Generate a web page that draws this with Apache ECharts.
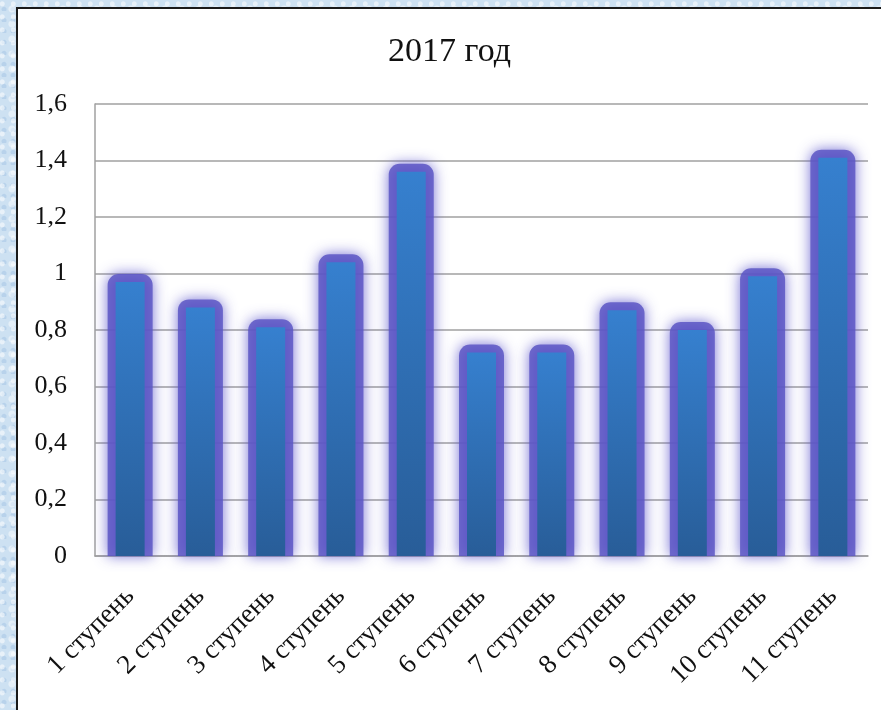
<!DOCTYPE html>
<html>
<head>
<meta charset="utf-8">
<script src="https://cdn.jsdelivr.net/npm/echarts@6/dist/echarts.min.js"></script>
<style>
  html, body { margin: 0; padding: 0; width: 881px; height: 710px; overflow: hidden; }
  body {
    background-color: #cde1f2;
    background-image:
      radial-gradient(circle at 20% 30%, rgba(255,255,255,0.55) 0 2px, transparent 3px),
      radial-gradient(circle at 70% 60%, rgba(255,255,255,0.45) 0 3px, transparent 4px),
      radial-gradient(circle at 45% 85%, rgba(170,200,230,0.6) 0 2px, transparent 3px);
    background-size: 11px 13px, 17px 15px, 9px 11px;
    position: relative;
  }
  #chart {
    position: absolute; left: 16px; top: 7px;
    width: 863px; height: 701px;
    background: #ffffff;
    border-left: 2px solid #1a1a1a;
    border-top: 2px solid #1a1a1a;
  }
</style>
</head>
<body>
<div id="chart"></div>
<script>
const titleText = '2017 год';
const categories = ['1 ступень','2 ступень','3 ступень','4 ступень','5 ступень','6 ступень','7 ступень','8 ступень','9 ступень','10 ступень','11 ступень'];
const values = [0.97, 0.88, 0.81, 1.04, 1.36, 0.72, 0.72, 0.87, 0.80, 0.99, 1.41];
const yMin = 0, yMax = 1.6, yStep = 0.2;

const chart = echarts.init(document.getElementById('chart'), null, { renderer: 'canvas' });
const serif = '"Liberation Serif", "DejaVu Serif", serif';
const coreWidth = 29, glowPad = 8;

chart.setOption({
  backgroundColor: '#ffffff',
  animation: false,
  title: {
    text: titleText, left: 'center', top: 21,
    textStyle: { fontFamily: serif, fontSize: 34, fontWeight: 'normal', color: '#111' }
  },
  grid: { left: 77, right: 13, top: 95, bottom: 154, containLabel: false },
  xAxis: {
    type: 'category', data: categories,
    axisLine: { show: true, lineStyle: { color: '#a0a0a0', width: 1.5 } },
    axisTick: { show: false },
    axisLabel: { rotate: 45, interval: 0, margin: 36, fontFamily: serif, fontSize: 27, color: '#111' }
  },
  yAxis: {
    type: 'value', min: yMin, max: yMax, interval: yStep,
    axisLine: { show: true, lineStyle: { color: '#a0a0a0', width: 1.5 } },
    axisTick: { show: false },
    splitLine: { lineStyle: { color: '#a0a0a0', width: 1.5 } },
    axisLabel: {
      margin: 28, fontFamily: serif, fontSize: 26, color: '#111',
      formatter: v => String(Math.round(v * 10) / 10).replace('.', ',')
    }
  },
  series: [
    {
      type: 'custom', z: 1, clip: false,
      data: values.map((v, i) => [i, v]),
      encode: { x: 0, y: 1 },
      renderItem: function (params, api) {
        const top = api.coord([api.value(0), api.value(1)]);
        const base = api.coord([api.value(0), 0]);
        const w = coreWidth + glowPad * 2;
        return {
          type: 'rect',
          shape: { x: top[0] - w / 2, y: top[1] - glowPad, width: w, height: base[1] - top[1] + glowPad, r: [11, 11, 0, 0] },
          style: { fill: 'rgba(92,86,196,0.85)', shadowBlur: 14, shadowColor: 'rgba(95,88,205,1)' }
        };
      }
    },
    {
      type: 'bar', data: values, barWidth: coreWidth, z: 2,
      itemStyle: {
        color: new echarts.graphic.LinearGradient(0, 0, 0, 1, [
          { offset: 0, color: '#3680cf' },
          { offset: 1, color: '#285d98' }
        ])
      }
    }
  ]
});
</script>
</body>
</html>
